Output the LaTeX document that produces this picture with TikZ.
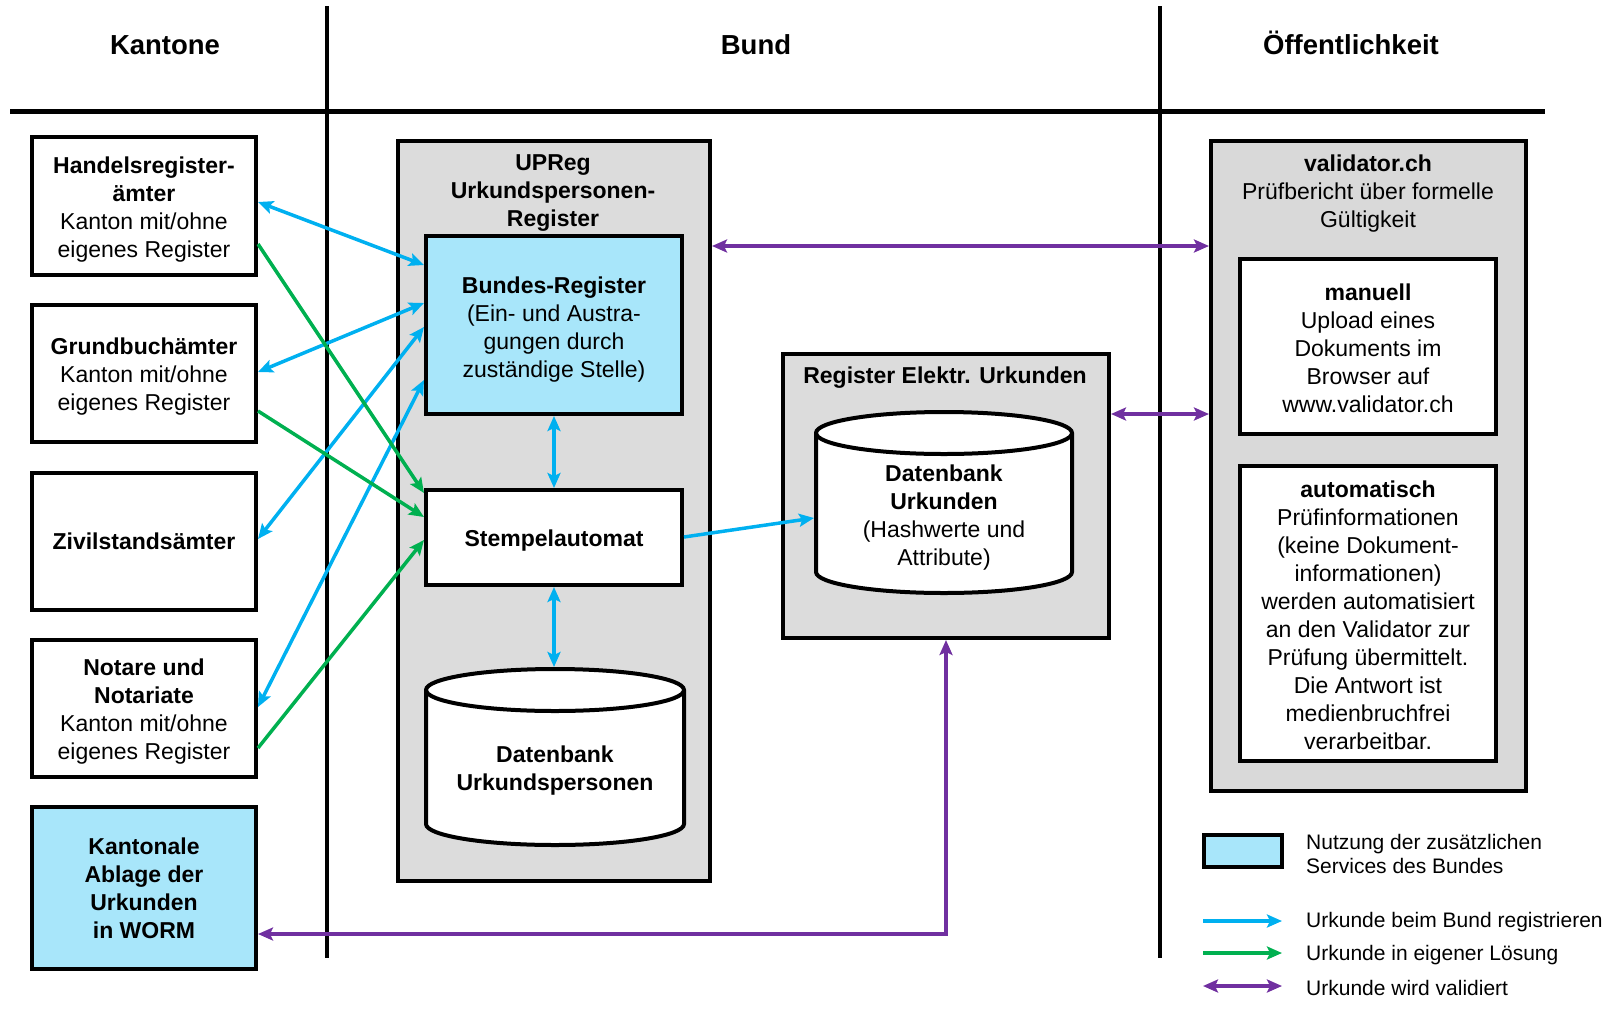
\documentclass[tikz,border=0pt]{standalone}
\usepackage{fontspec}
\setmainfont{Liberation Sans}
\usetikzlibrary{arrows.meta}
\definecolor{regblue}{RGB}{0,176,240}
\definecolor{owngreen}{RGB}{0,176,80}
\definecolor{valpurple}{RGB}{112,48,160}
\definecolor{servfill}{RGB}{168,230,250}
\definecolor{panelgray}{RGB}{220,220,220}
\definecolor{valgray}{RGB}{217,217,217}
% strut that sets the height of a node's first text line
\newcommand\firstline[1]{\rule{0pt}{#1pt}}

\begin{document}
\begin{tikzpicture}[x=1pt,y=-1pt,
  >={Stealth[length=15pt,width=13pt,inset=3pt]},
  bodyfont/.style={font=\fontsize{23}{28}\selectfont},
  topstrut/.style={execute at begin node={\rule{0pt}{22pt}}},
  txt/.style={bodyfont, align=center, inner sep=0pt},
  box/.style={draw, line width=4pt, fill=white, rectangle, inner sep=0pt,
              align=center, bodyfont},
  svc/.style={box, fill=servfill},
  panel/.style={draw, line width=4pt, fill=panelgray, rectangle, inner sep=0pt},
  frame/.style={rectangle, inner sep=0pt, outer sep=2pt},
  hdr/.style={font=\fontsize{27.5}{32}\selectfont\bfseries, anchor=base},
  legfont/.style={font=\fontsize{21}{24}\selectfont, align=left, inner sep=0pt, anchor=west},
  link/.style={line width=3.5pt},
  divider/.style={line width=4pt},
  drum/.style={draw, fill=white, line width=4pt}
]
\useasboundingbox (0,0) rectangle (1615,1010);

% column headers and dividers
\node[hdr] (kant) at (165,54.5) {Kantone};
\node[hdr] (bund) at (756,54.5) {Bund};
\node[hdr] (oeff) at (1351,54.5) {Öffentlichkeit};
\draw[divider] (327,6) -- (327,958);
\draw[divider] (1160,6) -- (1160,958);
\draw[line width=5pt] (10,111) -- (1545,111);

% cantonal offices
\node[box, minimum width=224, minimum height=138] (hr) at (144,206)
  {\firstline{23}\textbf{Handelsregister-}\\\textbf{ämter}\\Kanton mit/ohne\\eigenes Register};
\node[box, minimum width=224, minimum height=137] (gb) at (144,373.5)
  {\firstline{23}\textbf{Grundbuchämter}\\Kanton mit/ohne\\eigenes Register};
\node[box, minimum width=224, minimum height=137] (zs) at (144,541.5)
  {\textbf{Zivilstandsämter}};
\node[box, minimum width=224, minimum height=137] (nt) at (144,708.5)
  {\firstline{23}\textbf{Notare und}\\\textbf{Notariate}\\Kanton mit/ohne\\eigenes Register};
\node[svc, minimum width=224, minimum height=162] (ka) at (144,888)
  {\textbf{Kantonale}\\\textbf{Ablage der}\\\textbf{Urkunden}\\\textbf{in WORM}};

% UPReg
\node[panel, minimum width=312, minimum height=740] (upreg) at (554,511) {};
\node[txt] (upregtitle) at (553,193)
  {\textbf{UPReg}\\\textbf{Urkundspersonen-}\\\textbf{Register}};
\node[svc, minimum width=256, minimum height=178] (breg) at (554,325)
  {\firstline{25}\textbf{Bundes-Register}\\(Ein- und Austra-\\gungen durch\\zuständige Stelle)};
\node[box, topstrut, minimum width=256, minimum height=95] (stempel) at (554,537.5)
  {\textbf{Stempelautomat}};
\node[frame, minimum width=258, minimum height=176] (dbp) at (555,757) {};
\path[drum] (426,690) -- (426,824)
  arc[start angle=180, end angle=360, x radius=129pt, y radius=21pt]
  -- (684,690)
  arc[start angle=0, end angle=180, x radius=129pt, y radius=21pt] -- cycle;
\draw[line width=4pt] (426,690)
  arc[start angle=180, end angle=360, x radius=129pt, y radius=21pt];
\node[txt] (dbptext) at (555,771) {\textbf{Datenbank}\\\textbf{Urkundspersonen}};

% Register of electronic deeds
\node[panel, minimum width=326, minimum height=284] (reu) at (946,496) {};
\node[txt, topstrut] (reutitle) at (945,375) {\textbf{Register Elektr. Urkunden}};
\node[frame, minimum width=256, minimum height=181] (dbu) at (944,502.5) {};
\path[drum] (816,433) -- (816,572)
  arc[start angle=180, end angle=360, x radius=128pt, y radius=21pt]
  -- (1072,433)
  arc[start angle=0, end angle=180, x radius=128pt, y radius=21pt] -- cycle;
\draw[line width=4pt] (816,433)
  arc[start angle=180, end angle=360, x radius=128pt, y radius=21pt];
\node[txt] (dbutext) at (944,517.5)
  {\textbf{Datenbank}\\\textbf{Urkunden}\\(Hashwerte und\\Attribute)};

% validator.ch
\node[panel, fill=valgray, minimum width=315, minimum height=650] (val) at (1368.5,466) {};
\node[txt] (valtitle) at (1368,194)
  {\textbf{validator.ch}\\Prüfbericht über formelle\\Gültigkeit};
\node[box, minimum width=256, minimum height=175] (man) at (1368,346.5)
  {\firstline{21}\textbf{manuell}\\Upload eines\\Dokuments im\\Browser auf\\www.validator.ch};
\node[box, minimum width=256, minimum height=295] (auto) at (1368,613.5)
  {\firstline{21}\textbf{automatisch}\\Prüfinformationen\\(keine Dokument-\\informationen)\\werden automatisiert\\an den Validator zur\\Prüfung übermittelt.\\Die Antwort ist\\medienbruchfrei\\verarbeitbar.};

% registration at the federal register
\draw[link, regblue, <->] (hr.east |- 0,202) -- (breg.west |- 0,265);
\draw[link, regblue, <->] (gb.east |- 0,372) -- (breg.west |- 0,303);
\draw[link, regblue, <->] (zs.east |- 0,539) -- (breg.west |- 0,327);
\draw[link, regblue, <->] (nt.east |- 0,707) -- (breg.west |- 0,380);
\draw[link, regblue, <->] (breg.south) -- (breg.south |- stempel.north);
\draw[link, regblue, <->] (stempel.south) -- (stempel.south |- dbp.north);
\draw[link, regblue, ->] (stempel.east |- 0,537) -- (dbu.west |- 0,518);

% own solution
\draw[link, owngreen, ->] (hr.east |- 0,244) -- (stempel.west |- 0,493);
\draw[link, owngreen, ->] (gb.east |- 0,411) -- (stempel.west |- 0,517);
\draw[link, owngreen, ->] (nt.east |- 0,748) -- (stempel.west |- 0,540);

% validation
\draw[link, valpurple, <->] (upreg.east |- 0,246) -- (val.west |- 0,246);
\draw[link, valpurple, <->] (reu.east |- 0,414) -- (val.west |- 0,414);
\draw[link, valpurple, <->] (reu.south) |- (ka.east |- 0,934);

% legend
\node[svc, minimum width=78, minimum height=32] (legbox) at (1243,851) {};
\node[legfont] (legboxtext) at (1306,854) {Nutzung der zusätzlichen\\Services des Bundes};
\coordinate (lgBs) at (1203,921);
\coordinate (lgBe) at (1282,921);
\coordinate (lgGs) at (1203,953);
\coordinate (lgGe) at (1282,953);
\coordinate (lgPs) at (1203,986);
\coordinate (lgPe) at (1282,986);
\draw[link, regblue, ->] (lgBs) -- (lgBe);
\draw[link, owngreen, ->] (lgGs) -- (lgGe);
\draw[link, valpurple, <->] (lgPs) -- (lgPe);
\node[legfont] (legB) at (1306,922.5) {Urkunde beim Bund registrieren};
\node[legfont] (legG) at (1306,955.5) {Urkunde in eigener Lösung};
\node[legfont] (legP) at (1306,988) {Urkunde wird validiert};
\end{tikzpicture}
\end{document}
